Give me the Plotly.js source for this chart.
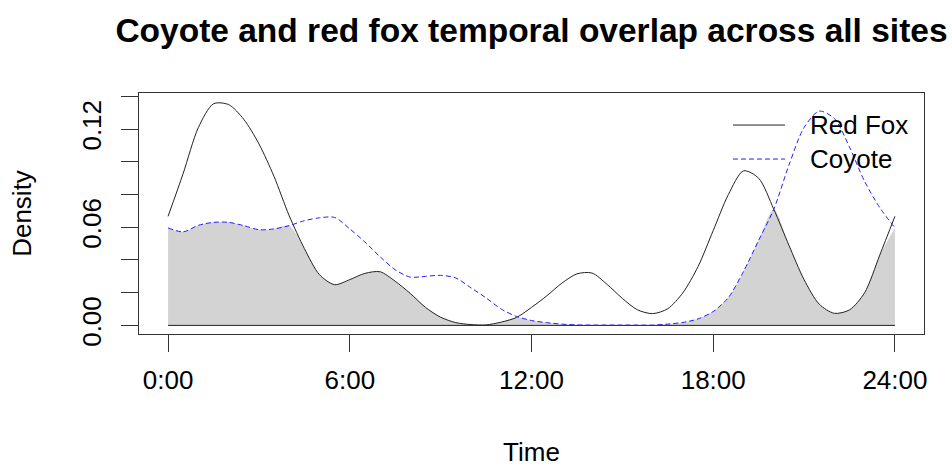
<!DOCTYPE html>
<html>
<head>
<meta charset="utf-8">
<script src="https://cdn.plot.ly/plotly-3.0.1.min.js"></script>
<style>html,body{margin:0;padding:0;background:#fff;}#chart{width:952px;height:467px;}</style>
</head>
<body>
<div id="chart"></div>
<script>
// Time of day in hours (0:00 - 24:00)
const hours = [0,0.5,1,1.5,2,2.5,3,3.5,4,4.5,5,5.5,6,6.5,7,7.5,8,8.5,9,9.5,10,10.5,11,11.5,12,
  12.5,13,13.5,14,14.5,15,15.5,16,16.5,17,17.5,18,18.5,19,19.5,20,20.5,21,21.5,22,22.5,23,23.5,24];

// Kernel density estimates
const redFox = [0.0667,0.093,0.121,0.1355,0.135,0.126,0.111,0.091,0.067,0.047,0.031,0.0249,0.028,0.0318,0.0328,0.027,0.0195,0.011,0.005,0.0017,0.0005,0.0003,0.002,0.0048,0.011,
  0.018,0.0258,0.0315,0.032,0.025,0.0165,0.0095,0.0072,0.0102,0.020,0.036,0.058,0.080,0.0945,0.090,0.071,0.049,0.028,0.013,0.0074,0.0095,0.020,0.043,0.0667];

const coyote = [0.0596,0.0572,0.0612,0.063,0.063,0.061,0.0585,0.059,0.061,0.064,0.0658,0.066,0.059,0.051,0.042,0.034,0.0295,0.030,0.0306,0.029,0.023,0.0168,0.010,0.0055,0.003,
  0.0017,0.0008,0.0003,0.0002,0.0002,0.0002,0.0002,0.0002,0.0008,0.0018,0.004,0.0085,0.017,0.033,0.052,0.071,0.098,0.121,0.131,0.1265,0.109,0.088,0.072,0.0596];

const seriesNames = ["Red Fox", "Coyote"];
const xTickVals = [0, 6, 12, 18, 24];
const xTickText = ["0:00", "6:00", "12:00", "18:00", "24:00"];
const yTickVals = [0, 0.02, 0.04, 0.06, 0.08, 0.10, 0.12, 0.14];
const yTickText = ["0.00", "", "", "0.06", "", "", "0.12", ""];

const titleText = "Coyote and red fox temporal overlap across all sites";

// overlap = pointwise minimum of the two densities
const overlap = hours.map((h, i) => Math.min(redFox[i], coyote[i]));

const FONT = "Liberation Sans, Arial, sans-serif";
const AX = "#333333";

const traces = [
  { x: hours, y: overlap, type: "scatter", mode: "lines", fill: "tozeroy",
    fillcolor: "#d3d3d3", line: { width: 0, shape: "spline", smoothing: 0.8 },
    showlegend: false, hoverinfo: "skip" },
  { x: [hours[0], hours[hours.length - 1]], y: [0, 0], type: "scatter", mode: "lines",
    line: { color: "#222222", width: 1 }, showlegend: false, hoverinfo: "skip" },
  { x: hours, y: redFox, type: "scatter", mode: "lines", name: seriesNames[0],
    line: { color: "#222222", width: 1, shape: "spline", smoothing: 0.8 }, showlegend: false },
  { x: hours, y: coyote, type: "scatter", mode: "lines", name: seriesNames[1],
    line: { color: "#1f1fff", width: 1, dash: "5px,3px", shape: "spline", smoothing: 0.8 }, showlegend: false }
];

const layout = {
  width: 952, height: 467,
  margin: { l: 139, r: 28, t: 93, b: 133, pad: 0 },
  paper_bgcolor: "#ffffff", plot_bgcolor: "#ffffff",
  font: { family: FONT, color: "#000000", size: 26 },
  title: { text: "<b>" + titleText + "</b>", font: { family: FONT, size: 33.5, color: "#000" },
    x: 0.5, xref: "paper", xanchor: "center", y: 1 - 30 / 467, yref: "container", yanchor: "middle" },
  xaxis: {
    range: [-0.96, 24.96], tickmode: "array", tickvals: xTickVals, ticktext: xTickText,
    showgrid: false, zeroline: false, showline: true, mirror: true, linecolor: AX, linewidth: 1,
    ticks: "outside", ticklen: 17, tickwidth: 1, tickcolor: AX, ticklabelstandoff: 6,
    tickfont: { family: FONT, size: 26, color: "#000" },
    title: { text: "Time", font: { family: FONT, size: 26, color: "#000" }, standoff: 48 }
  },
  yaxis: {
    range: [-0.00526, 0.1421], tickmode: "array", tickvals: yTickVals, ticktext: yTickText,
    showgrid: false, zeroline: false, showline: true, mirror: true, linecolor: AX, linewidth: 1,
    ticks: "outside", ticklen: 17, tickwidth: 1, tickcolor: AX, tickangle: -90, ticklabelstandoff: 10,
    tickfont: { family: FONT, size: 26, color: "#000" },
    title: { text: "Density", font: { family: FONT, size: 26, color: "#000" }, standoff: 37 }
  },
  shapes: [
    { type: "line", xref: "paper", yref: "paper", x0: 0.7567, x1: 0.823, y0: 0.867, y1: 0.867,
      line: { color: "#222222", width: 1 } },
    { type: "line", xref: "paper", yref: "paper", x0: 0.7567, x1: 0.823, y0: 0.726, y1: 0.726,
      line: { color: "#1f1fff", width: 1, dash: "5px,3px" } }
  ],
  annotations: [
    { text: seriesNames[0], xref: "paper", yref: "paper", x: 0.852, y: 0.867, xanchor: "left", yanchor: "middle",
      showarrow: false, font: { family: FONT, size: 26, color: "#000" } },
    { text: seriesNames[1], xref: "paper", yref: "paper", x: 0.852, y: 0.726, xanchor: "left", yanchor: "middle",
      showarrow: false, font: { family: FONT, size: 26, color: "#000" } }
  ],
  showlegend: false
};

Plotly.newPlot("chart", traces, layout, { displayModeBar: false, staticPlot: true });
</script>
</body>
</html>
